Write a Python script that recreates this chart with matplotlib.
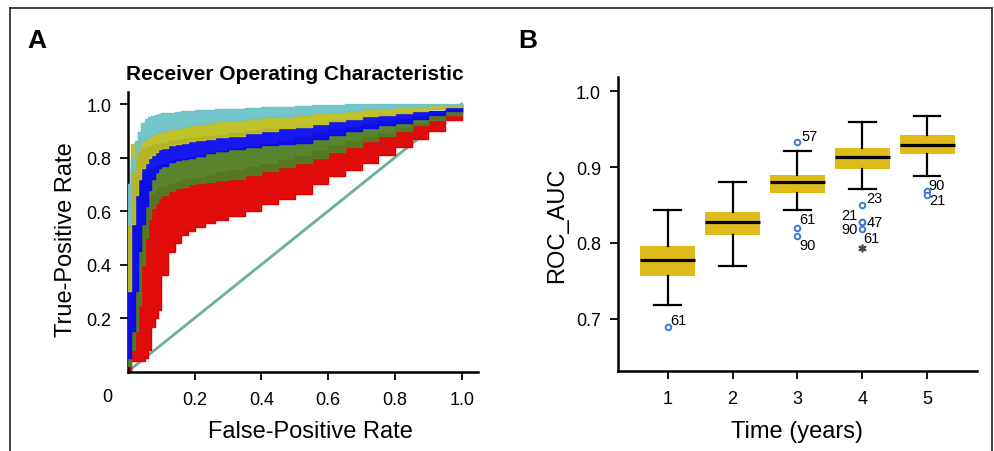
import matplotlib
matplotlib.use('Agg')
import matplotlib.pyplot as plt
from matplotlib.lines import Line2D

plt.rcParams['font.family'] = ['Liberation Sans', 'DejaVu Sans']

# panel A: ROC bands (lower / upper TPR envelope per colour group)
fpr = [0, 0.01, 0.02, 0.03, 0.04, 0.05, 0.06, 0.07, 0.08, 0.09, 0.1, 0.12, 0.14,
       0.16, 0.18, 0.2, 0.23, 0.26, 0.3, 0.35, 0.4, 0.45, 0.5, 0.55, 0.6, 0.65,
       0.7, 0.75, 0.8, 0.85, 0.9, 0.95, 1.0]
red_lo = [0.0, 0.04, 0.04, 0.04, 0.04, 0.05, 0.08, 0.165, 0.2, 0.23, 0.36, 0.445, 0.48,
          0.51, 0.525, 0.54, 0.555, 0.565, 0.58, 0.60, 0.625, 0.645, 0.665, 0.70, 0.73,
          0.755, 0.78, 0.81, 0.84, 0.87, 0.90, 0.94, 0.97]
red_hi = [0.10, 0.30, 0.50, 0.58, 0.62, 0.64, 0.655, 0.665, 0.675, 0.685, 0.69, 0.70,
          0.71, 0.715, 0.72, 0.725, 0.735, 0.745, 0.755, 0.765, 0.775, 0.79, 0.805, 0.825,
          0.845, 0.86, 0.875, 0.89, 0.91, 0.93, 0.95, 0.965, 0.98]
green_lo = [0.02, 0.08, 0.15, 0.25, 0.40, 0.50, 0.57, 0.61, 0.63, 0.65, 0.66, 0.675,
            0.685, 0.69, 0.70, 0.705, 0.71, 0.715, 0.72, 0.735, 0.75, 0.765, 0.78, 0.80,
            0.82, 0.84, 0.86, 0.88, 0.90, 0.92, 0.94, 0.96, 0.98]
green_hi = [0.30, 0.55, 0.68, 0.72, 0.74, 0.75, 0.755, 0.76, 0.765, 0.77, 0.775, 0.785,
            0.79, 0.795, 0.80, 0.805, 0.815, 0.82, 0.83, 0.84, 0.85, 0.86, 0.875, 0.89,
            0.905, 0.915, 0.925, 0.935, 0.945, 0.955, 0.965, 0.975, 0.99]
blue_lo = [0.05, 0.15, 0.30, 0.45, 0.55, 0.62, 0.68, 0.72, 0.745, 0.76, 0.77, 0.785,
           0.79, 0.795, 0.80, 0.805, 0.815, 0.825, 0.83, 0.84, 0.845, 0.85, 0.855, 0.87,
           0.885, 0.90, 0.91, 0.92, 0.93, 0.945, 0.96, 0.975, 0.99]
blue_hi = [0.50, 0.76, 0.80, 0.82, 0.83, 0.835, 0.84, 0.845, 0.85, 0.85, 0.855, 0.86,
           0.865, 0.87, 0.872, 0.875, 0.88, 0.885, 0.89, 0.90, 0.905, 0.91, 0.915, 0.925,
           0.935, 0.945, 0.955, 0.96, 0.965, 0.97, 0.975, 0.985, 0.995]
yellow_lo = [0.30, 0.55, 0.66, 0.72, 0.76, 0.78, 0.80, 0.81, 0.82, 0.83, 0.835, 0.845,
             0.85, 0.855, 0.86, 0.865, 0.87, 0.875, 0.88, 0.89, 0.90, 0.91, 0.915, 0.925,
             0.935, 0.945, 0.955, 0.96, 0.965, 0.975, 0.98, 0.99, 0.995]
yellow_hi = [0.60, 0.85, 0.86, 0.865, 0.87, 0.875, 0.88, 0.885, 0.89, 0.895, 0.90, 0.905,
             0.91, 0.915, 0.92, 0.925, 0.93, 0.935, 0.94, 0.945, 0.95, 0.955, 0.96, 0.965,
             0.97, 0.975, 0.98, 0.985, 0.99, 0.99, 0.995, 0.995, 1.0]
cyan_lo = [0.55, 0.75, 0.82, 0.84, 0.86, 0.87, 0.88, 0.885, 0.89, 0.895, 0.90, 0.905,
           0.91, 0.915, 0.92, 0.925, 0.93, 0.935, 0.94, 0.945, 0.95, 0.955, 0.96, 0.965,
           0.97, 0.975, 0.98, 0.985, 0.99, 0.99, 0.995, 0.995, 1.0]
cyan_hi = [0.70, 0.80, 0.86, 0.895, 0.93, 0.945, 0.95, 0.955, 0.96, 0.962, 0.965, 0.967,
           0.97, 0.972, 0.974, 0.976, 0.978, 0.98, 0.982, 0.985, 0.988, 0.99, 0.992, 0.995,
           0.997, 1.0, 1.0, 1.0, 1.0, 1.0, 1.0, 1.0, 1.0]
chance = [0.0, 1.0]

# panel B: box stats of ROC_AUC per year
years = [1, 2, 3, 4, 5]
whis_lo = [0.718, 0.770, 0.843, 0.871, 0.888]
q1 = [0.757, 0.810, 0.8665, 0.897, 0.918]
med = [0.7775, 0.827, 0.881, 0.913, 0.9295]
q3 = [0.7956, 0.8405, 0.890, 0.925, 0.942]
whis_hi = [0.844, 0.881, 0.921, 0.960, 0.968]

out_x = [1, 3, 3, 3, 4, 4, 4, 4, 5, 5]
out_y = [0.689, 0.9326, 0.8194, 0.8088, 0.8507, 0.8282, 0.8282, 0.8181, 0.8687, 0.8634]
out_lab = ['61', '57', '61', '90', '23', '21', '47', '90', '90', '21']
extreme_x = [4]
extreme_y = [0.793]
extreme_lab = ['61']

W, H = 994, 452
fig = plt.figure(figsize=(W / 100, H / 100), dpi=100)

def fx(px):
    return px / W

def fy(py):
    return 1 - py / H

# ---------- panel A ----------
ax = fig.add_axes([fx(128), fy(372.5), fx(478) - fx(128), fy(92.7) - fy(372.5)])
ax.plot(chance, chance, color='#6AAF9A', lw=2, zorder=1)
bands = [(red_lo, red_hi, '#E00000'),
         (green_lo, green_hi, '#507D23'),
         (blue_lo, blue_hi, '#0A0AF0'),
         (yellow_lo, yellow_hi, '#BEBE1E'),
         (cyan_lo, cyan_hi, '#6EC3C8')]
for i, (lo, hi, c) in enumerate(bands):
    ax.fill_between(fpr, lo, hi, step='post', color=c, lw=0, alpha=0.95, zorder=2 + i)
    ax.step(fpr, lo, where='post', color=c, lw=1, zorder=2 + i)
    ax.step(fpr, hi, where='post', color=c, lw=1, zorder=2 + i)

ax.set_xlim(0, 1.049)
ax.set_ylim(0, 1.046)
ax.set_xticks([0.2, 0.4, 0.6, 0.8, 1.0])
ax.set_yticks([0.2, 0.4, 0.6, 0.8, 1.0])
ax.set_xticklabels(['0.2', '0.4', '0.6', '0.8', '1.0'])
ax.set_yticklabels(['0.2', '0.4', '0.6', '0.8', '1.0'])
for s in ['top', 'right']:
    ax.spines[s].set_visible(False)
for s in ['left', 'bottom']:
    ax.spines[s].set_linewidth(1.8)
ax.tick_params(length=6, width=1.3, labelsize=13)
ax.tick_params(axis='x', pad=8)
ax.tick_params(axis='y', pad=6)

fig.text(fx(107), fy(398), '0', ha='center', va='center', fontsize=13)
fig.text(fx(295), fy(80), 'Receiver Operating Characteristic', ha='center', va='baseline',
         fontsize=15, fontweight='bold')
fig.text(fx(310), fy(438), 'False-Positive Rate', ha='center', va='baseline', fontsize=17)
fig.text(fx(72.5), fy(240), 'True-Positive Rate', ha='center', va='baseline', fontsize=17,
         rotation=90, rotation_mode='anchor')
fig.text(fx(27), fy(48), 'A', ha='left', va='baseline', fontsize=19, fontweight='bold')

# ---------- panel B ----------
bx = fig.add_axes([fx(617.7), fy(372), fx(977) - fx(617.7), fy(78) - fy(372)])
stats = []
for i in range(len(years)):
    stats.append({'med': med[i], 'q1': q1[i], 'q3': q3[i],
                  'whislo': whis_lo[i], 'whishi': whis_hi[i], 'fliers': []})
bx.bxp(stats, positions=years, widths=0.85, patch_artist=True, showfliers=False,
       capwidths=0.41,
       boxprops=dict(facecolor='#DEBB1B', edgecolor='#DEBB1B', linewidth=0),
       medianprops=dict(color='black', linewidth=2.3),
       whiskerprops=dict(color='black', linewidth=1.6),
       capprops=dict(color='black', linewidth=1.6))
bx.plot(out_x, out_y, 'o', ms=4, mfc='white', mec='#3C7BD0', mew=1.4, zorder=5)
bx.plot(extreme_x, extreme_y, marker='$*$', ls='none', ms=5, color='#444444', zorder=5)

offsets = [(1.5, 5, 'left'), (3, 5, 'left'), (1.5, 6.5, 'left'), (1.5, -6.5, 'left'),
           (3, 5, 'left'), (-3.5, 5, 'right'), (3, 0, 'left'), (-3, 0, 'right'),
           (1, 4, 'left'), (1.5, -4, 'left')]
for xv, yv, lab, (dx, dy, ha) in zip(out_x, out_y, out_lab, offsets):
    bx.annotate(lab, (xv, yv), xytext=(dx, dy), textcoords='offset points',
                ha=ha, va='center', fontsize=10.5)
for xv, yv, lab in zip(extreme_x, extreme_y, extreme_lab):
    bx.annotate(lab, (xv, yv), xytext=(1, 7.5), textcoords='offset points',
                ha='left', va='center', fontsize=10.5)

bx.set_xlim(0.228, 5.77)
bx.set_ylim(0.631, 1.019)
bx.set_xticks(years)
bx.set_xticklabels([str(y) for y in years])
bx.set_yticks([0.7, 0.8, 0.9, 1.0])
bx.set_yticklabels(['0.7', '0.8', '0.9', '1.0'])
for s in ['top', 'right']:
    bx.spines[s].set_visible(False)
for s in ['left', 'bottom']:
    bx.spines[s].set_linewidth(1.8)
bx.tick_params(length=6, width=1.3, labelsize=13)
bx.tick_params(axis='x', pad=8)
bx.tick_params(axis='y', pad=6)

fig.text(fx(797), fy(438), 'Time (years)', ha='center', va='baseline', fontsize=17)
fig.text(fx(563), fy(225), 'ROC_AUC', ha='center', va='baseline', fontsize=17,
         rotation=90, rotation_mode='anchor')
fig.text(fx(518), fy(48), 'B', ha='left', va='baseline', fontsize=19, fontweight='bold')

# frame around the figure (no bottom edge)
for xs, ys in [([fx(10), fx(992)], [fy(9), fy(9)]),
               ([fx(10), fx(10)], [fy(9), 0]),
               ([fx(992), fx(992)], [fy(9), 0])]:
    fig.add_artist(Line2D(xs, ys, transform=fig.transFigure, color='#222222', lw=1.2))

fig.savefig('out.png', dpi=100)
